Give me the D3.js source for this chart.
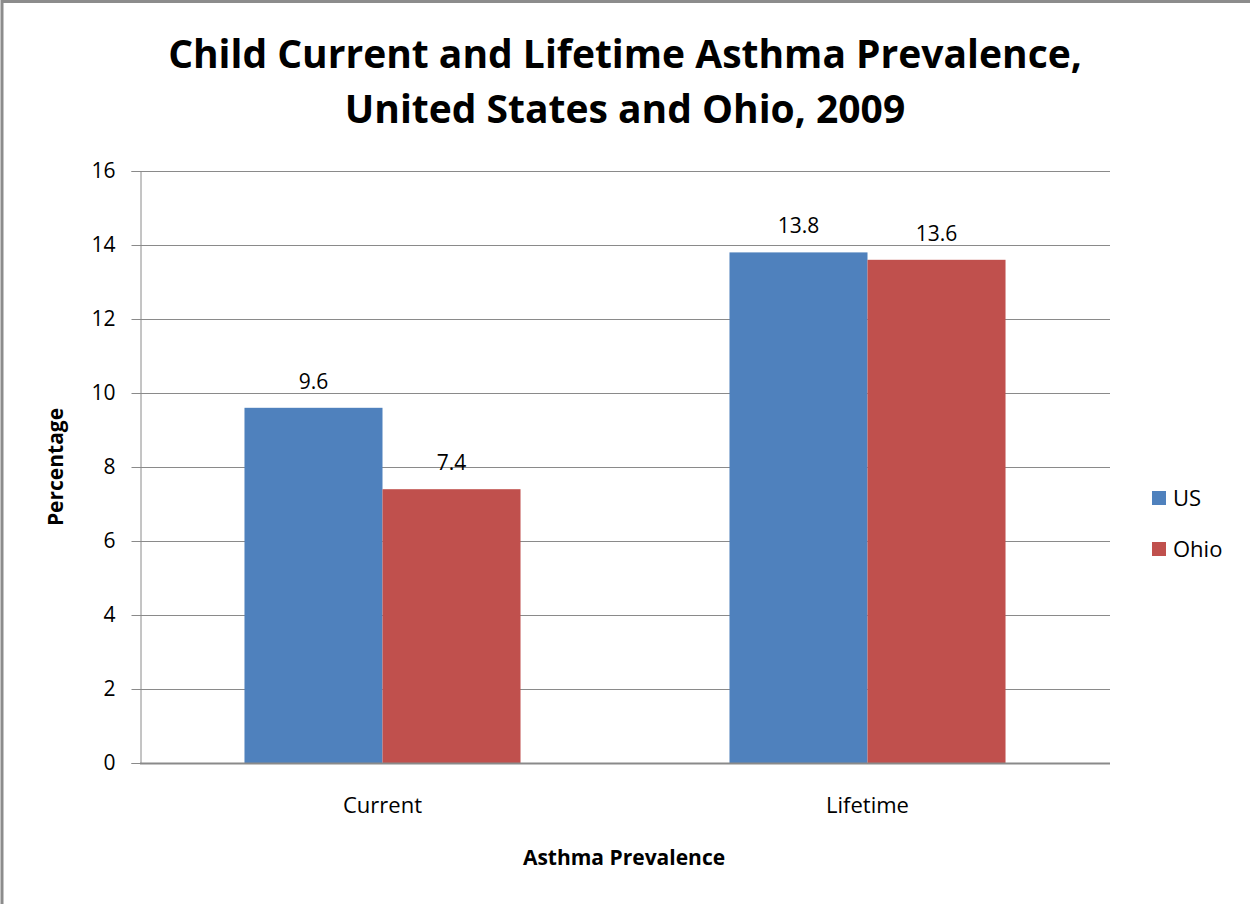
<!DOCTYPE html>
<html>
<head>
<meta charset="utf-8">
<script src="https://cdn.jsdelivr.net/npm/d3@7"></script>
<style>
  body { margin: 0; background: #fff; }
  svg { display: block; font-family: "Open Sans", "Liberation Sans", sans-serif; }
</style>
</head>
<body>
<div id="chart"></div>
<script>
const categories = ["Current", "Lifetime"];
const seriesNames = ["US", "Ohio"];
const usValues = [9.6, 13.8];
const ohioValues = [7.4, 13.6];
const yTicks = [0, 2, 4, 6, 8, 10, 12, 14, 16];
const colors = ["#4F81BD", "#C0504D"];

const width = 1250, height = 904;
const plot = { left: 140, top: 171, right: 1110, bottom: 763 };

const svg = d3.select("#chart").append("svg")
  .attr("width", width)
  .attr("height", height);

// outer frame (only top/left visible in the picture)
svg.append("path")
  .attr("d", `M2,${height} L2,1.5 L${width},1.5`)
  .attr("fill", "none")
  .attr("stroke", "#8c8c8c")
  .attr("stroke-width", 3);

// title
const title = svg.append("text")
  .attr("text-anchor", "middle")
  .attr("font-weight", "bold")
  .attr("font-size", 39)
  .attr("fill", "#000");
title.append("tspan").attr("x", 625).attr("y", 68).text("Child Current and Lifetime Asthma Prevalence,");
title.append("tspan").attr("x", 625).attr("y", 123).text("United States and Ohio, 2009");

const x0 = d3.scaleBand()
  .domain(categories)
  .range([plot.left, plot.right])
  .paddingInner(0)
  .paddingOuter(0);

// two bars of ~138px inside each ~485px category
const x1 = d3.scaleBand()
  .domain(seriesNames)
  .range([0, x0.bandwidth()])
  .paddingOuter(0.757)
  .paddingInner(0);

const y = d3.scaleLinear()
  .domain([0, 16])
  .range([plot.bottom, plot.top]);

// gridlines
svg.append("g")
  .selectAll("line")
  .data(yTicks.filter(d => d > 0))
  .enter()
  .append("line")
  .attr("x1", plot.left)
  .attr("x2", plot.right)
  .attr("y1", d => Math.round(y(d)) + 0.5)
  .attr("y2", d => Math.round(y(d)) + 0.5)
  .attr("stroke", "#8a8a8a")
  .attr("stroke-width", 1);

// y axis
const yAxis = svg.append("g")
  .attr("transform", `translate(${plot.left + 0.5},0)`)
  .call(d3.axisLeft(y).tickValues(yTicks).tickSize(9).tickPadding(16).tickFormat(d3.format("d")));
yAxis.select(".domain").attr("stroke", "#8a8a8a");
yAxis.selectAll(".tick line").attr("stroke", "#8a8a8a");
yAxis.selectAll(".tick text")
  .attr("font-size", 21)
  .attr("fill", "#000")
  .attr("font-family", "Open Sans, Liberation Sans, sans-serif");

// bars
const rows = categories.map((c, i) => ({ cat: c, vals: [usValues[i], ohioValues[i]] }));
const groups = svg.append("g")
  .selectAll("g")
  .data(rows)
  .enter()
  .append("g")
  .attr("transform", d => `translate(${x0(d.cat)},0)`);

groups.selectAll("rect")
  .data(d => d.vals.map((v, j) => ({ name: seriesNames[j], v: v, j: j })))
  .enter()
  .append("rect")
  .attr("x", d => x1(d.name))
  .attr("y", d => y(d.v))
  .attr("width", x1.bandwidth())
  .attr("height", d => plot.bottom - y(d.v))
  .attr("fill", d => colors[d.j]);

groups.selectAll("text.val")
  .data(d => d.vals.map((v, j) => ({ name: seriesNames[j], v: v })))
  .enter()
  .append("text")
  .attr("class", "val")
  .attr("x", d => x1(d.name) + x1.bandwidth() / 2)
  .attr("y", d => y(d.v) - 19)
  .attr("text-anchor", "middle")
  .attr("font-size", 21)
  .attr("fill", "#000")
  .text(d => d3.format(".1f")(d.v));

// x axis line
svg.append("line")
  .attr("x1", plot.left)
  .attr("x2", plot.right)
  .attr("y1", plot.bottom + 0.5)
  .attr("y2", plot.bottom + 0.5)
  .attr("stroke", "#8a8a8a")
  .attr("stroke-width", 2);

// category labels
svg.append("g")
  .selectAll("text")
  .data(categories)
  .enter()
  .append("text")
  .attr("x", d => x0(d) + x0.bandwidth() / 2)
  .attr("y", 813)
  .attr("text-anchor", "middle")
  .attr("font-size", 22)
  .attr("fill", "#000")
  .text(d => d);

// axis titles
svg.append("text")
  .attr("x", 624)
  .attr("y", 865)
  .attr("text-anchor", "middle")
  .attr("font-size", 21)
  .attr("font-weight", "bold")
  .text("Asthma Prevalence");

svg.append("text")
  .attr("transform", "translate(63,467) rotate(-90)")
  .attr("text-anchor", "middle")
  .attr("font-size", 21)
  .attr("font-weight", "bold")
  .text("Percentage");

// legend
const legend = svg.append("g")
  .selectAll("g")
  .data(seriesNames)
  .enter()
  .append("g")
  .attr("transform", (d, i) => `translate(1152,${491 + i * 51})`);
legend.append("rect")
  .attr("width", 14)
  .attr("height", 14)
  .attr("fill", (d, i) => colors[i]);
legend.append("text")
  .attr("x", 21)
  .attr("y", 15)
  .attr("font-size", 22)
  .attr("fill", "#000")
  .text(d => d);
</script>
</body>
</html>
